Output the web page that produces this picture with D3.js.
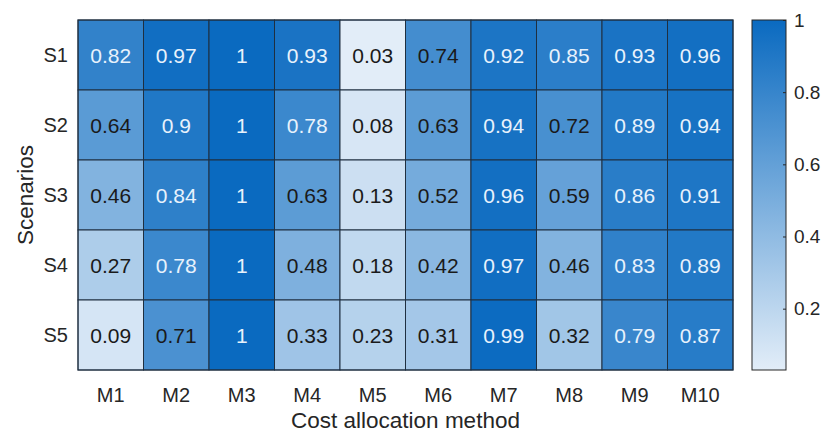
<!DOCTYPE html>
<html>
<head>
<meta charset="utf-8">
<script src="https://cdn.jsdelivr.net/npm/d3@7"></script>
<style>
  body { margin: 0; background: #fff; }
  svg { font-family: "Liberation Sans", Arial, sans-serif; }
</style>
</head>
<body>
<div id="chart"></div>
<script>
const scenarios = ["S1", "S2", "S3", "S4", "S5"];
const methods = ["M1", "M2", "M3", "M4", "M5", "M6", "M7", "M8", "M9", "M10"];
const values = [
  [0.82, 0.97, 1, 0.93, 0.03, 0.74, 0.92, 0.85, 0.93, 0.96],
  [0.64, 0.9, 1, 0.78, 0.08, 0.63, 0.94, 0.72, 0.89, 0.94],
  [0.46, 0.84, 1, 0.63, 0.13, 0.52, 0.96, 0.59, 0.86, 0.91],
  [0.27, 0.78, 1, 0.48, 0.18, 0.42, 0.97, 0.46, 0.83, 0.89],
  [0.09, 0.71, 1, 0.33, 0.23, 0.31, 0.99, 0.32, 0.79, 0.87]
];
const colorTicks = [0.2, 0.4, 0.6, 0.8, 1];

const W = 821, H = 432;
const plot = { left: 78, top: 20, right: 733, bottom: 370 };
const cbar = { left: 752, right: 786 };

const svg = d3.select("#chart").append("svg")
  .attr("width", W).attr("height", H);

const cells = [];
values.forEach((row, i) => row.forEach((v, j) => cells.push({ s: scenarios[i], m: methods[j], v })));

const vmin = d3.min(cells, d => d.v), vmax = d3.max(cells, d => d.v);

const x = d3.scaleBand().domain(methods).range([plot.left, plot.right]);
const y = d3.scaleBand().domain(scenarios).range([plot.top, plot.bottom]);
const color = d3.scaleLinear().domain([vmin, vmax])
  .range(["rgb(226,237,248)", "rgb(10,106,192)"])
  .interpolate(d3.interpolateRgb);

svg.append("g").selectAll("rect")
  .data(cells).join("rect")
  .attr("x", d => x(d.m)).attr("y", d => y(d.s))
  .attr("width", x.bandwidth()).attr("height", y.bandwidth())
  .attr("fill", d => color(d.v))
  .attr("stroke", "#1f2f40").attr("stroke-width", 1);

svg.append("g").selectAll("text")
  .data(cells).join("text")
  .attr("x", d => x(d.m) + x.bandwidth() / 2)
  .attr("y", d => y(d.s) + y.bandwidth() / 2)
  .attr("text-anchor", "middle").attr("dominant-baseline", "central")
  .attr("font-size", 21)
  .attr("fill", d => d.v >= 0.75 ? "#e8f2fc" : "#1a1a1a")
  .text(d => d3.format("")(d.v));

svg.append("rect")
  .attr("x", plot.left).attr("y", plot.top)
  .attr("width", plot.right - plot.left).attr("height", plot.bottom - plot.top)
  .attr("fill", "none").attr("stroke", "#1f2f40");

// axes labels
svg.append("g").selectAll("text")
  .data(methods).join("text")
  .attr("x", d => x(d) + x.bandwidth() / 2).attr("y", 395)
  .attr("text-anchor", "middle").attr("dominant-baseline", "central")
  .attr("font-size", 20).attr("fill", "#262626")
  .text(d => d);

svg.append("g").selectAll("text")
  .data(scenarios).join("text")
  .attr("x", 68).attr("y", d => y(d) + y.bandwidth() / 2)
  .attr("text-anchor", "end").attr("dominant-baseline", "central")
  .attr("font-size", 20).attr("fill", "#262626")
  .text(d => d);

svg.append("text")
  .attr("x", (plot.left + plot.right) / 2).attr("y", 420)
  .attr("text-anchor", "middle").attr("dominant-baseline", "central")
  .attr("font-size", 22.5).attr("fill", "#262626")
  .text("Cost allocation method");

svg.append("text")
  .attr("transform", `translate(25,${(plot.top + plot.bottom) / 2}) rotate(-90)`)
  .attr("text-anchor", "middle").attr("dominant-baseline", "central")
  .attr("font-size", 22.5).attr("fill", "#262626")
  .text("Scenarios");

// colorbar
const cy = d3.scaleLinear().domain([vmin, vmax]).range([plot.bottom, plot.top]);
const grad = svg.append("defs").append("linearGradient")
  .attr("id", "cb").attr("x1", 0).attr("y1", 1).attr("x2", 0).attr("y2", 0);
grad.append("stop").attr("offset", 0).attr("stop-color", color(vmin));
grad.append("stop").attr("offset", 1).attr("stop-color", color(vmax));

svg.append("rect")
  .attr("x", cbar.left).attr("y", plot.top)
  .attr("width", cbar.right - cbar.left).attr("height", plot.bottom - plot.top)
  .attr("fill", "url(#cb)").attr("stroke", "#262626").attr("stroke-width", 1);

const cAxis = svg.append("g")
  .attr("transform", `translate(${cbar.right},0)`)
  .call(d3.axisRight(cy).tickValues(colorTicks).tickSize(-3).tickPadding(8).tickFormat(d3.format("")));
cAxis.select(".domain").remove();
cAxis.selectAll("line").attr("stroke", "#262626");
cAxis.selectAll("text").attr("font-size", 19).attr("fill", "#262626")
  .attr("font-family", "Liberation Sans, Arial, sans-serif");
</script>
</body>
</html>
